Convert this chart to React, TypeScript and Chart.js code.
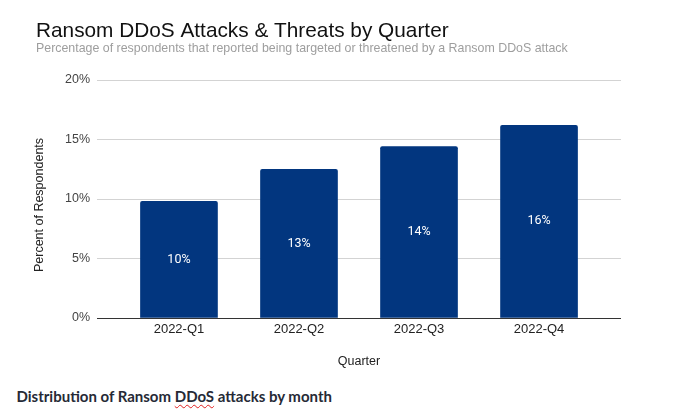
import React, { useEffect, useRef } from "react";
import { Chart, registerables } from "chart.js";

Chart.register(...registerables);

const quarters = ["2022-Q1", "2022-Q2", "2022-Q3", "2022-Q4"];
const percentRespondents = [9.8, 12.5, 14.4, 16.2];
const yMax = 20;
const yStep = 5;

const TITLE = "Ransom DDoS Attacks & Threats by Quarter";
const SUBTITLE =
  "Percentage of respondents that reported being targeted or threatened by a Ransom DDoS attack";
const Y_TITLE = "Percent of Respondents";
const X_TITLE = "Quarter";
const FONT = "Arial, 'Liberation Sans', sans-serif";
const BAR_COLOR = "#02367f";

export default function App() {
  const ref = useRef<HTMLCanvasElement>(null);

  useEffect(() => {
    if (!ref.current) return;

    const decorPlugin = {
      id: "decor",
      afterDatasetsDraw(chart: any) {
        const c = chart.ctx;
        const area = chart.chartArea;
        const yScale = chart.scales.y;
        c.save();
        const y0 = Math.round(yScale.getPixelForValue(0)) + 0.5;
        c.strokeStyle = "#333333";
        c.lineWidth = 1;
        c.beginPath();
        c.moveTo(area.left, y0);
        c.lineTo(area.right, y0);
        c.stroke();
        const meta = chart.getDatasetMeta(0);
        c.fillStyle = "#ffffff";
        c.font = "12.5px Roboto, Arial, sans-serif";
        c.textAlign = "center";
        c.textBaseline = "middle";
        meta.data.forEach((bar: any, i: number) => {
          const p = bar.getProps(["x", "y", "base"], true);
          c.fillText(Math.round(percentRespondents[i]) + "%", p.x, (p.y + p.base) / 2);
        });
        c.restore();
      },
      afterDraw(chart: any) {
        const c = chart.ctx;
        c.save();
        c.textAlign = "left";
        c.textBaseline = "alphabetic";
        c.fillStyle = "#111111";
        c.font = `20.8px ${FONT}`;
        c.fillText(TITLE, 36, 36.5);
        c.fillStyle = "#9e9e9e";
        c.font = `12.4px ${FONT}`;
        c.fillText(SUBTITLE, 36, 52);
        c.translate(40, 205);
        c.rotate(-Math.PI / 2);
        c.textAlign = "center";
        c.textBaseline = "middle";
        c.fillStyle = "#222222";
        c.font = `12.5px ${FONT}`;
        c.fillText(Y_TITLE, 0, 0);
        c.restore();
      },
    };

    const chart = new Chart(ref.current, {
      type: "bar",
      data: {
        datasets: [
          {
            label: Y_TITLE,
            data: percentRespondents.map((v, i) => ({ x: i, y: v })),
            backgroundColor: BAR_COLOR,
            borderRadius: 2,
            borderSkipped: "start",
            barThickness: 77,
          },
        ],
      },
      options: {
        animation: false,
        responsive: false,
        maintainAspectRatio: false,
        layout: { padding: { left: 0, right: 58, top: 80, bottom: 0 } },
        plugins: {
          legend: { display: false },
          tooltip: { enabled: false },
          title: { display: false },
        },
        scales: {
          x: {
            type: "linear",
            offset: false,
            min: -0.683,
            max: 3.683,
            afterBuildTicks: (scale: any) => {
              scale.ticks = quarters.map((_, i) => ({ value: i }));
            },
            afterFit: (scale: any) => {
              scale.height = 62;
            },
            grid: { display: false, drawTicks: false, offset: false },
            border: { display: false },
            ticks: {
              autoSkip: false,
              maxRotation: 0,
              padding: 4,
              color: "#222222",
              font: { family: FONT, size: 13 },
              callback: (v: any) => quarters[v] ?? "",
            },
            title: {
              display: true,
              text: X_TITLE,
              color: "#222222",
              font: { family: FONT, size: 12.5 },
              padding: { top: 0, bottom: 11 },
            },
          },
          y: {
            min: 0,
            max: yMax,
            afterFit: (scale: any) => {
              scale.width = 97;
            },
            grid: {
              drawTicks: false,
              color: (ctx: any) => (ctx.tick && ctx.tick.value === 0 ? "#333333" : "#d3d3d3"),
              lineWidth: 1,
            },
            border: { display: false },
            ticks: {
              stepSize: yStep,
              padding: 7,
              color: "#444444",
              font: { family: FONT, size: 12.5 },
              callback: (v: any) => v + "%",
            },
          },
        },
      },
      plugins: [decorPlugin],
    } as any);

    return () => chart.destroy();
  }, []);

  return (
    <div
      style={{
        position: "fixed",
        left: 0,
        top: 0,
        width: 679,
        height: 418,
        background: "#ffffff",
        overflow: "hidden",
      }}
    >
      <canvas
        ref={ref}
        width={679}
        height={380}
        style={{ position: "absolute", left: 0, top: 0, width: 679, height: 380 }}
      />
      <div
        style={{
          position: "absolute",
          left: 16.5,
          top: 386,
          fontFamily: "Lato, 'Open Sans', sans-serif",
          fontWeight: 700,
          fontSize: 15,
          lineHeight: "20px",
          color: "#262a36",
          whiteSpace: "nowrap",
        }}
      >
        Distribution of Ransom{" "}
        <span
          style={{
            textDecorationLine: "underline",
            textDecorationStyle: "wavy",
            textDecorationColor: "#e02020",
            textDecorationThickness: "1px",
            textUnderlineOffset: "2px",
          }}
        >
          DDoS
        </span>{" "}
        attacks by month
      </div>
    </div>
  );
}
